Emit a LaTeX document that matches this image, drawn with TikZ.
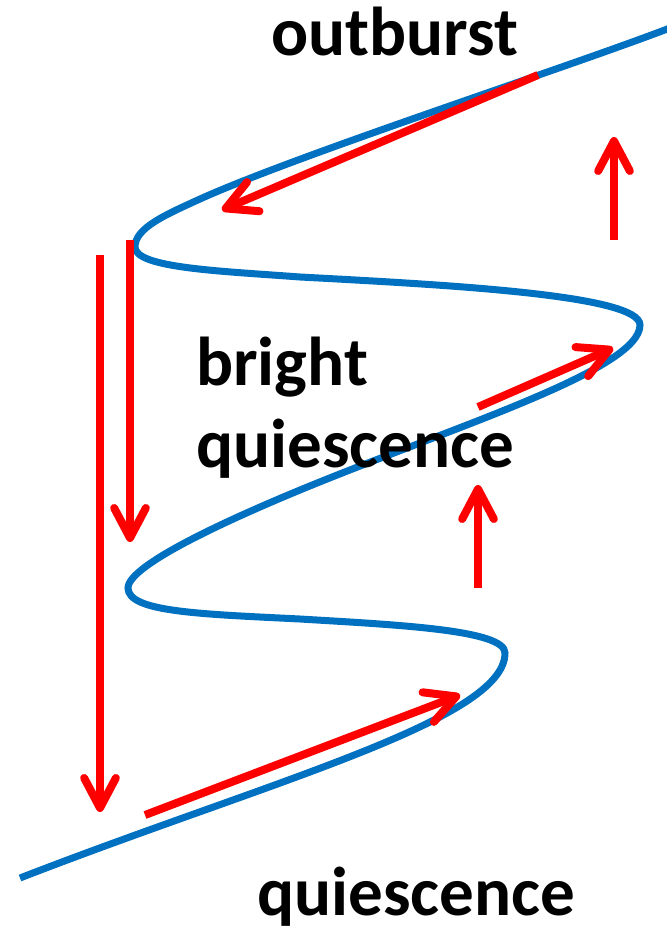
\documentclass[tikz,border=0pt]{standalone}
\usepackage{fontspec}
\setmainfont{Carlito}
\usetikzlibrary{arrows.meta}
\definecolor{sblue}{RGB}{0,112,192}
\begin{document}
\begin{tikzpicture}[x=0.3mm, y=-0.3mm,
    scurve/.style={line width=2.1mm, sblue},
    jump/.style={line width=2.4mm, red,
        -{Straight Barb[length=9mm, width=9.5mm, line cap=round, line join=round]}},
    label/.style={anchor=base west, inner sep=0pt, font=\fontsize{59}{70}\selectfont\bfseries}]
    \useasboundingbox (0,0) rectangle (666,934);

    % Curva a S
    \draw[scurve] (20,878) .. controls (270,781) and (505,720) .. (505,653)
        .. controls (505,630) and (400,625) .. (300,619)
        .. controls (200,614) and (128,612) .. (128,588)
        .. controls (128,565) and (230,519) .. (300,490)
        .. controls (450,428) and (640,370) .. (640,325)
        .. controls (640,295) and (450,285) .. (300,277)
        .. controls (220,271) and (135,268) .. (135,247)
        .. controls (135,228) and (165,215) .. (200,199)
        .. controls (300,154) and (560,70) .. (670,28);

    % Frecce lungo i rami
    \draw[jump] (538,75) -- (222,210);
    \draw[jump] (478,407) -- (613,348);
    \draw[jump] (145,815) -- (460,695);

    % Salti verticali
    \draw[jump] (614,240) -- (614,137);
    \draw[jump] (478,588) -- (478,485);
    \draw[jump] (100,255) -- (100,812);
    \draw[jump] (130,240) -- (130,542);

    % Etichette
    \node[label] (outb) at (271,56) {outburst};
    \node[label] (bright) at (196,385) {bright};
    \node[label] (brightq) at (196,467) {quiescence};
    \node[label] (quies) at (257,915) {quiescence};
\end{tikzpicture}
\end{document}
